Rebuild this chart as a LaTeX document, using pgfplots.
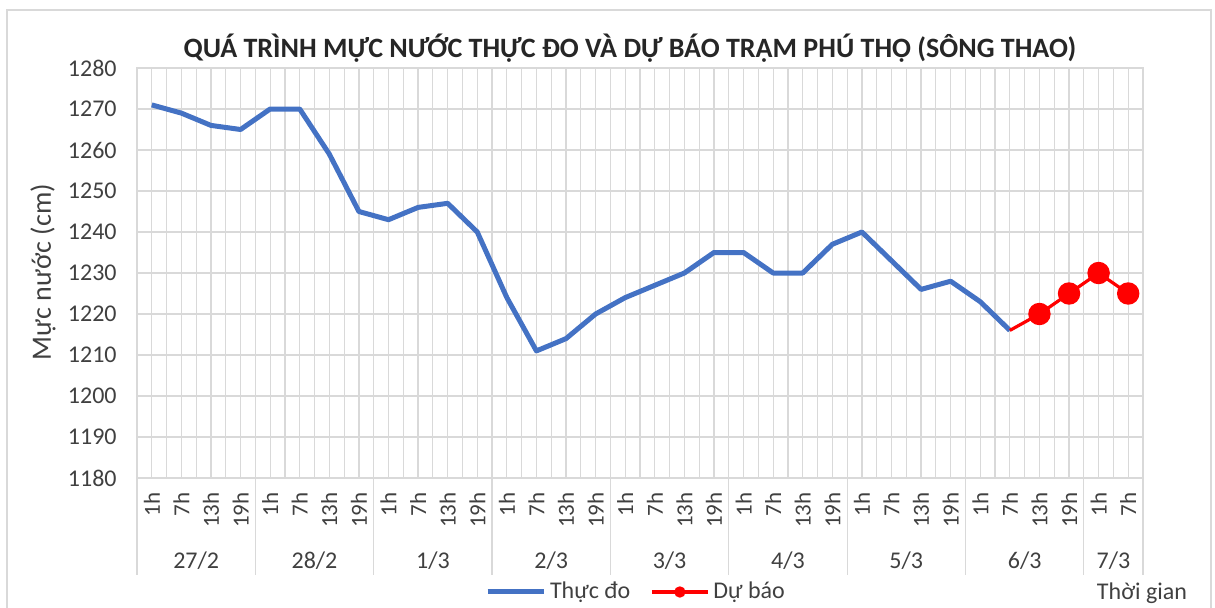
\documentclass[border=0pt]{standalone}
\usepackage{fontspec}
\setmainfont{Carlito}
\usepackage{pgfplots}
\pgfplotsset{compat=1.18}
\definecolor{blueline}{HTML}{4472C4}
\definecolor{gridc}{HTML}{D9D9D9}
\definecolor{txt}{HTML}{404040}
\definecolor{ttl}{HTML}{262626}
\begin{document}
\begin{tikzpicture}
\useasboundingbox (-68.5pt,-64.5pt) rectangle (539pt,239pt);
\draw[gridc, line width=0.8pt] (-65pt,-80pt) rectangle (537pt,234pt);
\begin{axis}[
  scale only axis, width=503pt, height=205pt,
  xmin=-0.5, xmax=33.5, ymin=1180, ymax=1280,
  ytick={1180,1190,...,1280},
  xtick={0,...,33},
  xticklabels={1h,7h,13h,19h,1h,7h,13h,19h,1h,7h,13h,19h,1h,7h,13h,19h,1h,7h,13h,19h,1h,7h,13h,19h,1h,7h,13h,19h,1h,7h,13h,19h,1h,7h},
  minor xtick={-0.5,0.5,...,33.5},
  grid=both,
  major grid style={gridc, line width=0.6pt},
  minor grid style={gridc, line width=0.6pt},
  major tick length=0pt, minor tick length=0pt,
  axis line style={gridc, line width=0.6pt},
  ticklabel style={font=\fontsize{11.5}{13}\selectfont, text=txt},
  yticklabel style={font=\fontsize{12}{14}\selectfont},
  /pgf/number format/assume math mode=true,
  /pgf/number format/1000 sep={},
  yticklabel style={anchor=east, inner sep=0pt},
  yticklabel shift=10pt,
  xticklabel style={rotate=90, anchor=east, inner sep=0pt},
  xticklabel shift=7pt,
  clip=false,
  title={QUÁ TRÌNH MỰC NƯỚC THỰC ĐO VÀ DỰ BÁO TRẠM PHÚ THỌ (SÔNG THAO)},
  title style={at={(axis description cs:0.49,1)}, anchor=center, yshift=4pt, font=\bfseries\fontsize{14}{16}\selectfont, text=ttl},
  ylabel={Mực nước (cm)},
  ylabel style={at={(axis description cs:-0.0934,0.502)}, anchor=center, font=\fontsize{14}{16}\selectfont, text=txt},
  legend style={at={(axis description cs:0.497,-0.278)}, anchor=center, draw=none, fill=none, legend columns=2, font=\fontsize{12}{14}\selectfont, text=txt, /tikz/every even column/.append style={column sep=8pt}, inner sep=0pt},
  legend image code/.code={\draw[mark repeat=2,mark phase=2,#1,mark size=2pt] plot coordinates {(0pt,0pt)(14pt,0pt)(28pt,0pt)};},
]
\addplot[blueline, line width=2.5pt, line join=round] coordinates {
(0,1271)(1,1269)(2,1266)(3,1265)(4,1270)(5,1270)(6,1259)(7,1245)(8,1243)(9,1246)
(10,1247)(11,1240)(12,1224)(13,1211)(14,1214)(15,1220)(16,1224)(17,1227)(18,1230)(19,1235)
(20,1235)(21,1230)(22,1230)(23,1237)(24,1240)(25,1233)(26,1226)(27,1228)(28,1223)(29,1216)};
\addlegendentry{Thực đo}
\addplot[red, line width=1.6pt, forget plot] coordinates {(29,1216)(30,1220)};
\addplot[red, line width=1.6pt, mark=*, mark size=4.8pt] coordinates {(30,1220)(31,1225)(32,1230)(33,1225)};
\addlegendentry{Dự báo}
\foreach \x in {-0.5,3.5,7.5,11.5,15.5,19.5,23.5,27.5,31.5,33.5}{
  \edef\temp{\noexpand\draw[gridc, line width=0.6pt] (axis cs:\x,1180) -- ([yshift=-48.5pt]axis cs:\x,1180);}\temp
}
\foreach \x/\l in {1.5/27\slash 2,5.5/28\slash 2,9.5/1\slash 3,13.5/2\slash 3,17.5/3\slash 3,21.5/4\slash 3,25.5/5\slash 3,29.5/6\slash 3,32.5/7\slash 3}{
  \edef\temp{\noexpand\node[font=\noexpand\fontsize{12}{14}\noexpand\selectfont, text=txt] at (axis cs:\x,1180) [yshift=-41.5pt] {\unexpanded\expandafter{\l}};}\temp
}
\node[font=\fontsize{12}{14}\selectfont, text=txt] at (axis description cs:0.999,-0.2805) {Thời gian};
\end{axis}
\end{tikzpicture}
\end{document}
